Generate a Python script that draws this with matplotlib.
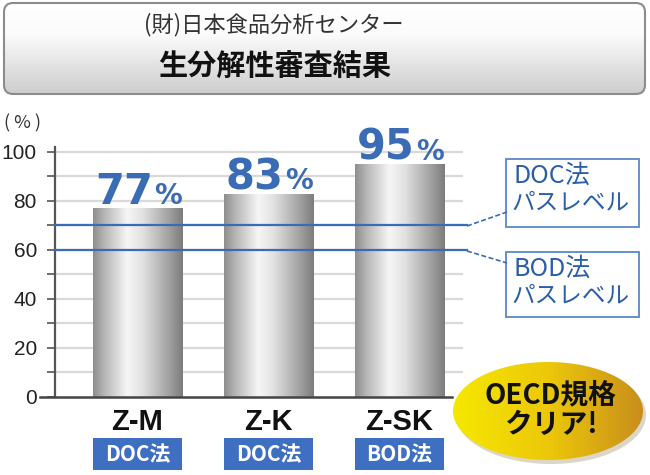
import matplotlib
matplotlib.use('Agg')
import matplotlib.pyplot as plt
import numpy as np
from matplotlib.patches import FancyBboxPatch, Rectangle, Ellipse
from matplotlib.colors import LinearSegmentedColormap

plt.rcParams['font.family'] = ['Noto Sans CJK JP', 'DejaVu Sans']

# data
products = ['Z-M', 'Z-K', 'Z-SK']
rates = [77, 83, 95]
methods = ['DOC法', 'DOC法', 'BOD法']
pass_levels = [70, 60]
pass_names = ['DOC法', 'BOD法']
y_ticks = [0, 20, 40, 60, 80, 100]

title_1 = '(財)日本食品分析センター'
title_2 = '生分解性審査結果'
badge_text = ['OECD規格', 'クリア!']

BLUE = '#3a6bb5'
TXT_BLUE = '#2b5ea9'

fig = plt.figure(figsize=(6.5, 4.75), dpi=100)

# main chart, pixel box x 55..467, y 147..397
ax = fig.add_axes([55/650, 1-397/475, 412/650, 250/475])
x = np.arange(len(products))
ax.set_xlim(-0.63, 2.515)
ax.set_ylim(0, 102)

# gridlines every 10
grid_y = np.arange(10, 101, 10)
ax.hlines(grid_y, -0.63, 2.485, color='#d9d9d9', lw=1.6, zorder=1)

bar_cmap = LinearSegmentedColormap.from_list('cyl', [
    (0.0, '#8e8e8e'), (0.12, '#b4b4b4'), (0.38, '#f6f6f6'),
    (0.55, '#e2e2e2'), (0.85, '#a0a0a0'), (1.0, '#7c7c7c')])
grad = np.linspace(0, 1, 256).reshape(1, -1)
bars = ax.bar(x, rates, width=0.68, color='none', zorder=2)
for b in bars:
    im = ax.imshow(grad, cmap=bar_cmap, aspect='auto', zorder=2,
                   extent=(b.get_x(), b.get_x()+b.get_width(), 0, b.get_height()))
    im.set_clip_path(b)

for xi, v in zip(x, rates):
    ax.annotate(str(v), xy=(xi, v), xytext=(11, 3), textcoords='offset points',
                ha='right', va='baseline', fontsize=30, fontweight='bold',
                color=BLUE, family='DejaVu Sans', zorder=5)
    ax.annotate('%', xy=(xi, v), xytext=(12, 3), textcoords='offset points',
                ha='left', va='baseline', fontsize=20, fontweight='bold',
                color=BLUE, family='DejaVu Sans', zorder=5)

# pass level lines
for lv in pass_levels:
    ax.plot([-0.63, 2.515], [lv, lv], color=BLUE, lw=1.6, zorder=3, clip_on=False)

# axes styling
for s in ['top', 'right', 'bottom']:
    ax.spines[s].set_visible(False)
ax.spines['left'].set_color('#555555')
ax.spines['left'].set_linewidth(1.6)
ax.plot([-0.744, 2.40], [0, 0], color='#444444', lw=1.8, clip_on=False, zorder=4)
ax.set_yticks(y_ticks)
ax.set_yticks(grid_y, minor=True)
ax.tick_params(axis='y', which='both', length=6, width=1.2, color='#555555',
               pad=7, labelsize=15, labelcolor='#222222')
for lab in ax.get_yticklabels():
    lab.set_family('Liberation Sans')
ax.set_xticks([])

# category labels and method badges
for xi, name, m in zip(x, products, methods):
    ax.text(xi, -13.5, name, ha='center', va='baseline', fontsize=21,
            fontweight='bold', family='Liberation Sans', color='#111111', clip_on=False)
    ax.add_patch(Rectangle((xi-0.34, -29.8), 0.68, 13.1, facecolor='#3e6fc0',
                           edgecolor='none', clip_on=False))
    ax.text(xi, -23.4, m, ha='center', va='center', fontsize=15,
            fontweight='bold', color='white', clip_on=False)

# overlay in pixel coordinates for the decorations
ov = fig.add_axes([0, 0, 1, 1], zorder=10)
ov.set_xlim(0, 650)
ov.set_ylim(475, 0)
ov.axis('off')

# title box
tb = FancyBboxPatch((4, 3), 641, 91, boxstyle='round,pad=0,rounding_size=9',
                    facecolor='none', edgecolor='#8c8c8c', lw=1.5, zorder=2)
ov.add_patch(tb)
title_cmap = LinearSegmentedColormap.from_list('tg', [
    (0.0, '#ffffff'), (0.35, '#fbfbfb'), (1.0, '#cdcdcd')])
tim = ov.imshow(np.linspace(0, 1, 128).reshape(-1, 1), cmap=title_cmap,
                aspect='auto', extent=(4, 645, 94, 3), zorder=1)
tim.set_clip_path(tb)
ov.text(274, 25, title_1, ha='center', va='center', fontsize=16, color='#333333', zorder=3)
ov.text(275, 67, title_2, ha='center', va='center', fontsize=21,
        fontweight='bold', color='#111111', zorder=3)

# y unit
ov.text(22, 123, '( % )', ha='center', va='center', fontsize=13, color='#333333')

# callout boxes for the pass levels
boxes = [(159, 227, (467, 226), (507, 212)), (252, 317, (467, 251), (507, 263))]
for (y0, y1, p0, p1), nm in zip(boxes, pass_names):
    ov.add_patch(Rectangle((506, y0), 133, y1-y0, facecolor='white',
                           edgecolor='#5a88c8', lw=1.3))
    ov.plot([p0[0], p1[0]], [p0[1], p1[1]], color=BLUE, lw=1.2, ls=(0, (3, 1.5)))
    ov.text(513, y0+24, nm, ha='left', va='baseline', fontsize=18, color=TXT_BLUE)
    ov.text(511, y0+50, 'パスレベル', ha='left', va='baseline', fontsize=17, color=TXT_BLUE)

# OECD badge ellipse
ov.add_patch(Ellipse((551, 415), 190, 98, facecolor='#9a8a60', alpha=0.35,
                     edgecolor='none', zorder=1))
el = Ellipse((548, 411), 190, 98, facecolor='none', edgecolor='none', zorder=2)
ov.add_patch(el)
gold_cmap = LinearSegmentedColormap.from_list('gold', [
    (0.0, '#f6e800'), (0.5, '#ecc80a'), (1.0, '#c98e1c')])
eim = ov.imshow(np.linspace(0, 1, 256).reshape(1, -1), cmap=gold_cmap,
                aspect='auto', extent=(453, 643, 460, 362), zorder=2)
eim.set_clip_path(el)
ov.text(550, 395, badge_text[0], ha='center', va='center', fontsize=20,
        fontweight='bold', color='#111111', zorder=3)
ov.text(551, 425, badge_text[1], ha='center', va='center', fontsize=20,
        fontweight='bold', color='#111111', zorder=3)

fig.savefig('out.png', dpi=100)
